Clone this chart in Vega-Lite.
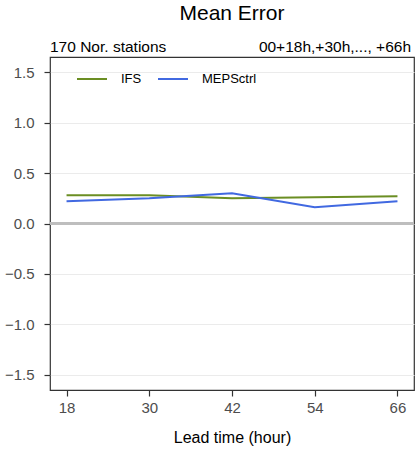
{
  "$schema": "https://vega.github.io/schema/vega-lite/v6.json",
  "autosize": "none",
  "width": 364,
  "height": 333,
  "padding": {"left": 50, "top": 57, "right": 2, "bottom": 71},
  "background": "white",
  "config": {
    "font": "Liberation Sans",
    "view": {"stroke": "#333333", "strokeWidth": 1.2},
    "axis": {"labelFont": "Liberation Sans", "titleFont": "Liberation Sans"}
  },
  "title": {
    "text": "Mean Error",
    "anchor": "middle",
    "frame": "group",
    "fontSize": 21,
    "fontWeight": "normal",
    "color": "black",
    "baseline": "alphabetic",
    "offset": -1
  },
  "datasets": {
    "scores": [
      {"lead": 18, "model": "IFS", "me": 0.28},
      {"lead": 30, "model": "IFS", "me": 0.28},
      {"lead": 42, "model": "IFS", "me": 0.25},
      {"lead": 54, "model": "IFS", "me": 0.26},
      {"lead": 66, "model": "IFS", "me": 0.27},
      {"lead": 18, "model": "MEPSctrl", "me": 0.22},
      {"lead": 30, "model": "MEPSctrl", "me": 0.25},
      {"lead": 42, "model": "MEPSctrl", "me": 0.30},
      {"lead": 54, "model": "MEPSctrl", "me": 0.16},
      {"lead": 66, "model": "MEPSctrl", "me": 0.22}
    ]
  },
  "layer": [
    {
      "data": {"values": [{"zero": 0}]},
      "mark": {"type": "rule", "color": "#BEBEBE", "strokeWidth": 3},
      "encoding": {"y": {"field": "zero", "type": "quantitative"}}
    },
    {
      "data": {"name": "scores"},
      "mark": {"type": "line", "strokeWidth": 2},
      "encoding": {
        "x": {
          "field": "lead",
          "type": "quantitative",
          "scale": {"domain": [15.6, 68.4], "nice": false, "zero": false},
          "axis": {
            "values": [18, 30, 42, 54, 66],
            "title": "Lead time (hour)",
            "titleFontSize": 16,
            "titleFontWeight": "normal",
            "titleColor": "black",
            "titlePadding": 14,
            "labelFontSize": 15,
            "labelColor": "#4D4D4D",
            "labelPadding": 4,
            "tickColor": "#333333",
            "tickSize": 6,
            "tickWidth": 1.2,
            "domain": false,
            "grid": false
          }
        },
        "y": {
          "field": "me",
          "type": "quantitative",
          "scale": {"domain": [-1.65, 1.65], "nice": false, "zero": false},
          "axis": {
            "values": [-1.5, -1, -0.5, 0, 0.5, 1, 1.5],
            "format": ".1f",
            "title": null,
            "labelFontSize": 15,
            "labelColor": "#4D4D4D",
            "labelPadding": 10,
            "tickColor": "#333333",
            "tickSize": 6,
            "tickWidth": 1.2,
            "domain": false,
            "grid": true,
            "gridColor": "#EBEBEB",
            "gridWidth": 1.2
          }
        },
        "color": {
          "field": "model",
          "type": "nominal",
          "scale": {"domain": ["IFS", "MEPSctrl"], "range": ["#6B8E23", "#4169E1"]},
          "legend": {
            "title": null,
            "orient": "none",
            "legendX": 26,
            "legendY": 6,
            "direction": "horizontal",
            "symbolType": "stroke",
            "symbolSize": 900,
            "symbolStrokeWidth": 2,
            "labelFontSize": 13,
            "labelColor": "black",
            "labelOffset": 13,
            "columnPadding": 12
          }
        }
      }
    },
    {
      "data": {"values": [{"label": "170 Nor. stations", "xpos": 15.6, "ypos": 1.65}]},
      "mark": {"type": "text", "align": "left", "baseline": "alphabetic", "dy": -5, "fontSize": 15.5, "color": "black"},
      "encoding": {
        "x": {"field": "xpos", "type": "quantitative"},
        "y": {"field": "ypos", "type": "quantitative"},
        "text": {"field": "label"}
      }
    },
    {
      "data": {"values": [{"label": "00+18h,+30h,..., +66h", "xpos": 68.4, "ypos": 1.65}]},
      "mark": {"type": "text", "align": "right", "baseline": "alphabetic", "dy": -5, "dx": -3, "fontSize": 15.5, "color": "black"},
      "encoding": {
        "x": {"field": "xpos", "type": "quantitative"},
        "y": {"field": "ypos", "type": "quantitative"},
        "text": {"field": "label"}
      }
    }
  ]
}
